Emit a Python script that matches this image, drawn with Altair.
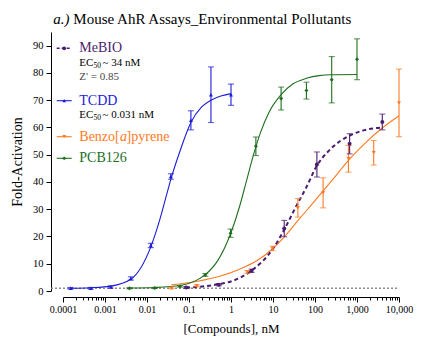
import altair as alt
import pandas as pd

# ---------------- data ----------------
tcdd_x = [0.000152, 0.000457, 0.00137, 0.00412, 0.0123, 0.037, 0.111, 0.333, 1.0]
tcdd_y = [1.0, 1.0, 1.5, 4.6, 16.7, 42.0, 62.6, 72.0, 72.0]
tcdd_err = [0.3, 0.3, 0.4, 0.6, 0.8, 1.0, 3.5, 10.2, 3.9]

pcb_x = [0.0038, 0.0153, 0.061, 0.244, 0.977, 3.91, 15.6, 62.5, 250, 1000]
pcb_y = [1.0, 1.1, 1.7, 5.9, 21.2, 53.1, 70.6, 73.5, 77.5, 85.0]
pcb_err = [0.2, 0.2, 0.3, 0.5, 1.5, 3.4, 4.2, 3.1, 8.5, 7.5]

mebio_x = [0.0857, 0.514, 3.09, 18.5, 111, 667, 4000]
mebio_y = [1.3, 2.3, 7.4, 22.9, 46.4, 54.0, 62.0]
mebio_err = [0.3, 0.4, 0.6, 3.0, 4.6, 3.7, 2.9]

bap_x = [0.038, 0.153, 2.44, 9.77, 39.1, 156, 625, 2500, 10000]
bap_y = [1.0, 1.9, 7.0, 15.6, 30.5, 36.0, 48.5, 50.7, 69.0]
bap_err = [0.2, 0.3, 0.5, 0.8, 3.4, 5.5, 4.9, 4.5, 12.4]

# fitted curves
tcdd_fit_x = [0.000152, 0.000457, 0.00137, 0.00412, 0.0123, 0.02, 0.031, 0.037, 0.06, 0.111, 0.2, 0.333, 0.6, 1.0]
tcdd_fit_y = [1.0, 1.2, 1.8, 4.3, 16.2, 26.0, 36.7, 41.0, 51.0, 61.8, 67.5, 70.0, 71.6, 72.4]

pcb_fit_x = [0.0038, 0.0153, 0.061, 0.15, 0.244, 0.5, 0.977, 1.6, 2.3, 3.3, 5.0, 8.0, 15.6, 30, 62.5, 125, 250, 1000]
pcb_fit_y = [1.1, 1.3, 2.0, 3.9, 6.0, 11.5, 21.0, 31.0, 40.0, 49.0, 58.0, 65.5, 72.0, 76.0, 78.0, 79.0, 79.3, 79.4]

mebio_fit_x = [0.0857, 0.514, 1.0, 3.09, 10, 18.5, 34, 62, 111, 200, 400, 667, 1500, 4000]
mebio_fit_y = [1.2, 2.5, 3.5, 7.5, 15.5, 22.5, 30.5, 38.0, 46.0, 51.0, 55.0, 57.0, 59.0, 60.0]

bap_fit_x = [0.038, 0.15, 0.54, 1.6, 4.0, 10, 19, 40, 90, 268, 633, 1500, 4000, 10000]
bap_fit_y = [2.3, 3.5, 5.4, 8.0, 11.0, 15.6, 20.0, 26.0, 32.3, 41.0, 48.0, 54.0, 59.8, 64.3]

series = ["MeBIO", "TCDD", "Benzo[a]pyrene", "PCB126"]
colors = ["#4b1d6e", "#1c1cd6", "#ff7a24", "#1e6e1e"]
shapes = ["circle", "triangle-up", "triangle-down", "diamond"]

major_ticks = [0.0001, 0.001, 0.01, 0.1, 1, 10, 100, 1000, 10000]
y_ticks = [0, 10, 20, 30, 40, 50, 60, 70, 80, 90]

FONT = "Liberation Serif, Times New Roman, DejaVu Serif, serif"

# ---------------- tables ----------------
def pts(name, xs, ys, es):
    return pd.DataFrame({"series": name, "x": xs, "y": ys,
                         "lo": [a - b for a, b in zip(ys, es)],
                         "hi": [a + b for a, b in zip(ys, es)]})

points = pd.concat([pts("MeBIO", mebio_x, mebio_y, mebio_err),
                    pts("TCDD", tcdd_x, tcdd_y, tcdd_err),
                    pts("Benzo[a]pyrene", bap_x, bap_y, bap_err),
                    pts("PCB126", pcb_x, pcb_y, pcb_err)], ignore_index=True)

def fit(name, xs, ys):
    return pd.DataFrame({"series": name, "x": xs, "y": ys})

fits_solid = pd.concat([fit("TCDD", tcdd_fit_x, tcdd_fit_y),
                        fit("Benzo[a]pyrene", bap_fit_x, bap_fit_y),
                        fit("PCB126", pcb_fit_x, pcb_fit_y)], ignore_index=True)
fit_mebio = fit("MeBIO", mebio_fit_x, mebio_fit_y)

minor_ticks = []
for k in range(-4, 4):
    for m in range(2, 10):
        minor_ticks.append(m * 10.0 ** k)
all_ticks = sorted(major_ticks + minor_ticks)

major_test = "abs(log(datum.value)/LN10 - round(log(datum.value)/LN10)) < 0.001"

xscale = alt.Scale(type="log", domain=[0.0001, 10000], nice=False)
yscale = alt.Scale(domain=[0, 95], nice=False)
cscale = alt.Scale(domain=series, range=colors)
sscale = alt.Scale(domain=series, range=shapes)

xaxis = alt.Axis(values=all_ticks, labelExpr=f"({major_test}) ? format(datum.value, ',') : ''",
                 tickSize={"condition": {"test": major_test, "value": 5}, "value": 3},
                 offset=6, labelOverlap=False, labelFlush=False, grid=False,
                 labelFontSize=10, labelPadding=2, titleFontSize=13, titlePadding=8)
yaxis = alt.Axis(values=y_ticks, offset=12, tickSize=5, grid=False, labelOverlap=False,
                 labelFontSize=10.5, labelPadding=3, titleFontSize=14, titlePadding=8)


def YY(field):
    return alt.Y(field, scale=yscale, axis=yaxis, title="Fold-Activation")


X = alt.X("x:Q", scale=xscale, axis=xaxis, title="[Compounds], nM")
C = alt.Color("series:N", scale=cscale, legend=None)

baseline = alt.Chart(pd.DataFrame({"v": [1]})).mark_rule(
    color="#8a8a8a", strokeDash=[2, 2], strokeWidth=1.5).encode(
    y=YY("v:Q"), x=alt.value(-12), x2=alt.value(336))

lines = alt.Chart(fits_solid).mark_line(interpolate="monotone", strokeWidth=1.1).encode(
    x=X, y=YY("y:Q"), color=C, detail="series:N")
line_me = alt.Chart(fit_mebio).mark_line(interpolate="monotone", strokeWidth=2,
                                         strokeDash=[4, 3]).encode(x=X, y=YY("y:Q"), color=C)

bars = alt.Chart(points).mark_rule(strokeWidth=1.1).encode(
    x=X, y=YY("lo:Q"), y2="hi:Q", color=C)
cap_lo = alt.Chart(points).mark_tick(orient="horizontal", size=6, thickness=1.1).encode(
    x=X, y=YY("lo:Q"), color=C)
cap_hi = alt.Chart(points).mark_tick(orient="horizontal", size=6, thickness=1.1).encode(
    x=X, y=YY("hi:Q"), color=C)
marks = alt.Chart(points).mark_point(filled=True, size=16, opacity=1).encode(
    x=X, y=YY("y:Q"), color=C, shape=alt.Shape("series:N", scale=sscale, legend=None))


def txt(s, x, y, size, color="black", style="normal", baseline_="middle"):
    return alt.Chart(pd.DataFrame({"t": [s]})).mark_text(
        align="left", baseline=baseline_, font=FONT, fontSize=size, color=color,
        fontStyle=style).encode(text="t:N", x=alt.value(x), y=alt.value(y))


# legend (drawn by hand)
leg = []
rows = [("MeBIO", 16.3, colors[0], shapes[0], [3, 2]),
        ("TCDD", 68.7, colors[1], shapes[1], None),
        ("Benzo[a]pyrene", 104.7, colors[2], shapes[2], None),
        ("PCB126", 126.3, colors[3], shapes[3], None)]
for name, yy, col, shp, dash in rows:
    kw = dict(color=col, strokeWidth=1.5 if dash else 1.1)
    if dash:
        kw["strokeDash"] = dash
    leg.append(alt.Chart(pd.DataFrame({"s": [name]})).mark_rule(**kw).encode(
        x=alt.value(-6.3), x2=alt.value(8.7), y=alt.value(yy)))
    leg.append(alt.Chart(pd.DataFrame({"s": [name]})).mark_point(
        filled=True, size=14, color=col, shape=shp, opacity=1).encode(
        x=alt.value(1.2), y=alt.value(yy)))

leg += [
    txt("MeBIO", 16.3, 16.3, 14, colors[0]),
    txt("EC", 16.3, 31.3, 11),
    txt("50", 30.4, 34.2, 7.5),
    txt("~ 34 nM", 39.5, 31.3, 11),
    txt("Z' = 0.85", 16.3, 44.7, 11, "#444"),
    txt("TCDD", 16.3, 68.7, 14, colors[1]),
    txt("EC", 16.3, 83.0, 11),
    txt("50", 30.4, 85.9, 7.5),
    txt("~ 0.031 nM", 39.5, 83.0, 11),
    txt("Benzo[", 16.3, 104.7, 14, colors[2]),
    txt("a", 56.9, 104.7, 14, colors[2], "italic"),
    txt("]pyrene", 63.6, 104.7, 14, colors[2]),
    txt("PCB126", 16.3, 126.3, 14, colors[3]),
    txt("a.)", -9.7, -8.5, 15, "black", "italic", "alphabetic"),
    txt("Mouse AhR Assays_Environmental Pollutants", 10.3, -8.5, 15, "black", "normal", "alphabetic"),
]

chart = alt.layer(baseline, lines, line_me, bars, cap_lo, cap_hi, marks, *leg).properties(
    width=336, height=259,
    autosize=alt.AutoSizeParams(type="none"),
    padding={"left": 63, "top": 32, "right": 30, "bottom": 56},
).configure_view(stroke=None).configure_axis(
    domainColor="black", tickColor="black", labelColor="black", titleColor="black",
    labelFont=FONT, titleFont=FONT, titleFontWeight="normal", domainWidth=1, tickWidth=1,
).configure_text(font=FONT)

chart.save("out.html", embed_options={"renderer": "svg", "actions": False})
